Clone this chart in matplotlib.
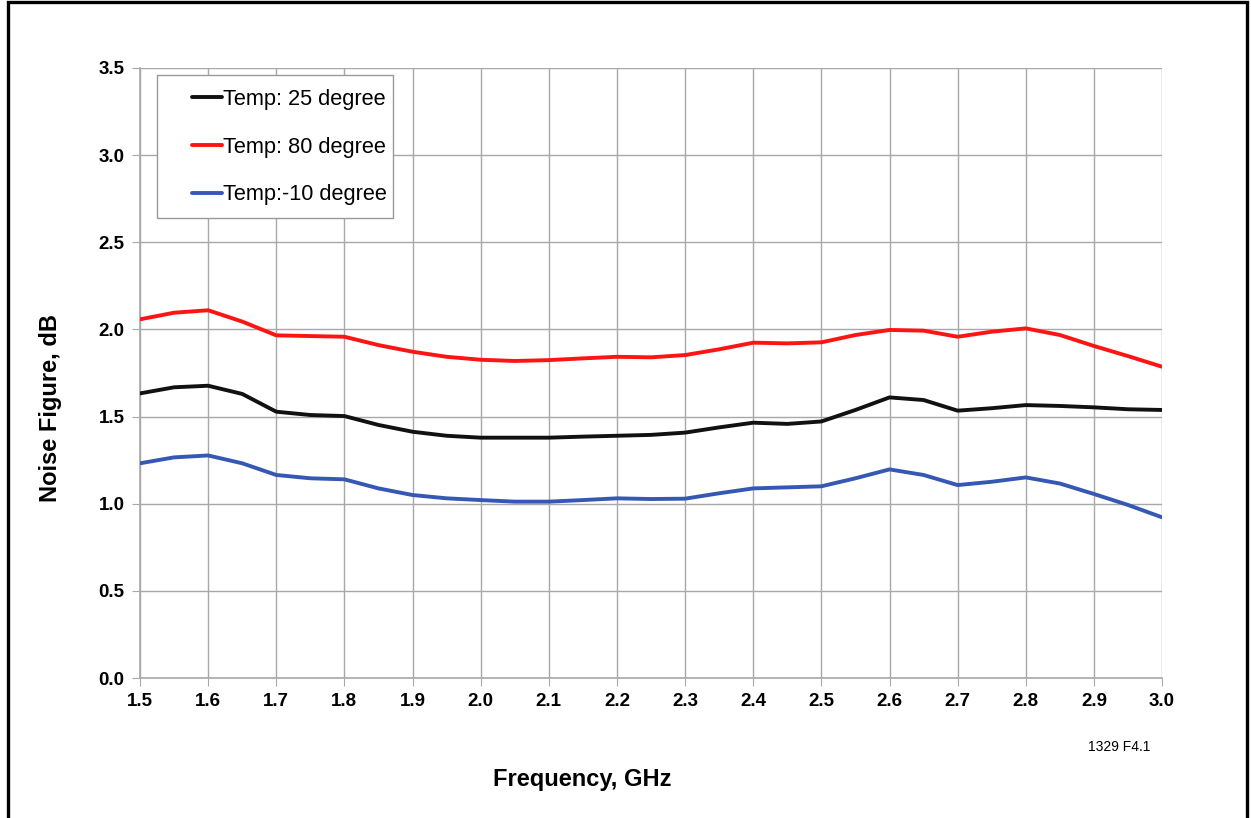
import matplotlib.pyplot as plt
from matplotlib.patches import Rectangle

plt.rcParams['font.family'] = ['Liberation Sans', 'DejaVu Sans']

# Frequency (GHz) at 0.05 GHz steps
freq = [1.50, 1.55, 1.60, 1.65, 1.70, 1.75, 1.80, 1.85, 1.90, 1.95,
        2.00, 2.05, 2.10, 2.15, 2.20, 2.25, 2.30, 2.35, 2.40, 2.45,
        2.50, 2.55, 2.60, 2.65, 2.70, 2.75, 2.80, 2.85, 2.90, 2.95, 3.00]

nf_25 = [1.633, 1.668, 1.677, 1.630, 1.528, 1.509, 1.503, 1.452, 1.413, 1.390,
         1.379, 1.379, 1.379, 1.385, 1.390, 1.395, 1.408, 1.438, 1.465, 1.458,
         1.472, 1.538, 1.610, 1.595, 1.534, 1.548, 1.566, 1.561, 1.553, 1.542, 1.538]

nf_80 = [2.058, 2.096, 2.110, 2.045, 1.966, 1.962, 1.958, 1.910, 1.872, 1.843,
         1.826, 1.819, 1.824, 1.834, 1.843, 1.840, 1.853, 1.886, 1.924, 1.920,
         1.926, 1.968, 1.997, 1.993, 1.958, 1.987, 2.006, 1.968, 1.905, 1.847, 1.786]

nf_m10 = [1.232, 1.266, 1.277, 1.232, 1.165, 1.146, 1.140, 1.088, 1.050, 1.031,
          1.021, 1.012, 1.012, 1.021, 1.031, 1.027, 1.029, 1.060, 1.088, 1.094,
          1.100, 1.146, 1.197, 1.165, 1.107, 1.126, 1.151, 1.116, 1.056, 0.993, 0.922]

labels = ['Temp: 25 degree', 'Temp: 80 degree', 'Temp:-10 degree']
colors = ['#111111', '#ff1414', '#3558b4']

fig = plt.figure(figsize=(12.51, 8.18), dpi=100)
ax = fig.add_axes([0.1119, 0.1711, 0.8170, 0.7458])

for ys, lab, c in zip([nf_25, nf_80, nf_m10], labels, colors):
    ax.plot(freq, ys, color=c, lw=2.8, label=lab, solid_capstyle='round', zorder=3)

ax.set_xlim(1.5, 3.0)
ax.set_ylim(0, 3.5)
ax.set_xticks([1.5 + 0.1 * i for i in range(16)])
ax.set_yticks([0.5 * i for i in range(8)])
ax.xaxis.set_major_formatter(plt.FormatStrFormatter('%.1f'))
ax.yaxis.set_major_formatter(plt.FormatStrFormatter('%.1f'))

ax.grid(True, color='#a8a8a8', lw=1.0)
ax.set_axisbelow(True)
for s in ['top', 'right']:
    ax.spines[s].set_visible(False)
for s in ['left', 'bottom']:
    ax.spines[s].set_color('#a8a8a8')
    ax.spines[s].set_linewidth(1.2)

ax.tick_params(direction='out', length=6, color='#a8a8a8', labelsize=13.5, pad=5)
for t in ax.get_xticklabels() + ax.get_yticklabels():
    t.set_fontweight('bold')

ax.set_xlabel('Frequency, GHz', fontsize=17, fontweight='bold')
ax.set_ylabel('Noise Figure, dB', fontsize=17, fontweight='bold')
ax.xaxis.set_label_coords(0.4325, -0.1475)
ax.yaxis.set_label_coords(-0.0763, 0.4426)

# legend box drawn separately so it can be wider than the entries
ax.add_patch(Rectangle((0.0166, 0.7541), 0.2310, 0.2344, transform=ax.transAxes,
                       facecolor='white', edgecolor='#999999', lw=1.0, zorder=4))
leg = ax.legend(loc='upper left', bbox_to_anchor=(0.0509, 0.9656), borderaxespad=0,
                borderpad=0, fontsize=15.7, handlelength=1.38, handletextpad=0.05,
                labelspacing=1.22, frameon=False)
leg.set_zorder(5)
for line in leg.get_lines():
    line.set_linewidth(2.8)

fig.text(0.8945, 0.0868, '1329 F4.1', fontsize=10, ha='center', va='center')

# outer frame of the figure
fig.patches.append(Rectangle((8 / 1251, -0.02), 1239 / 1251, 1.02 - 2 / 818,
                             transform=fig.transFigure, fill=False,
                             edgecolor='black', lw=2.4))

plt.savefig('out.png', dpi=100)
